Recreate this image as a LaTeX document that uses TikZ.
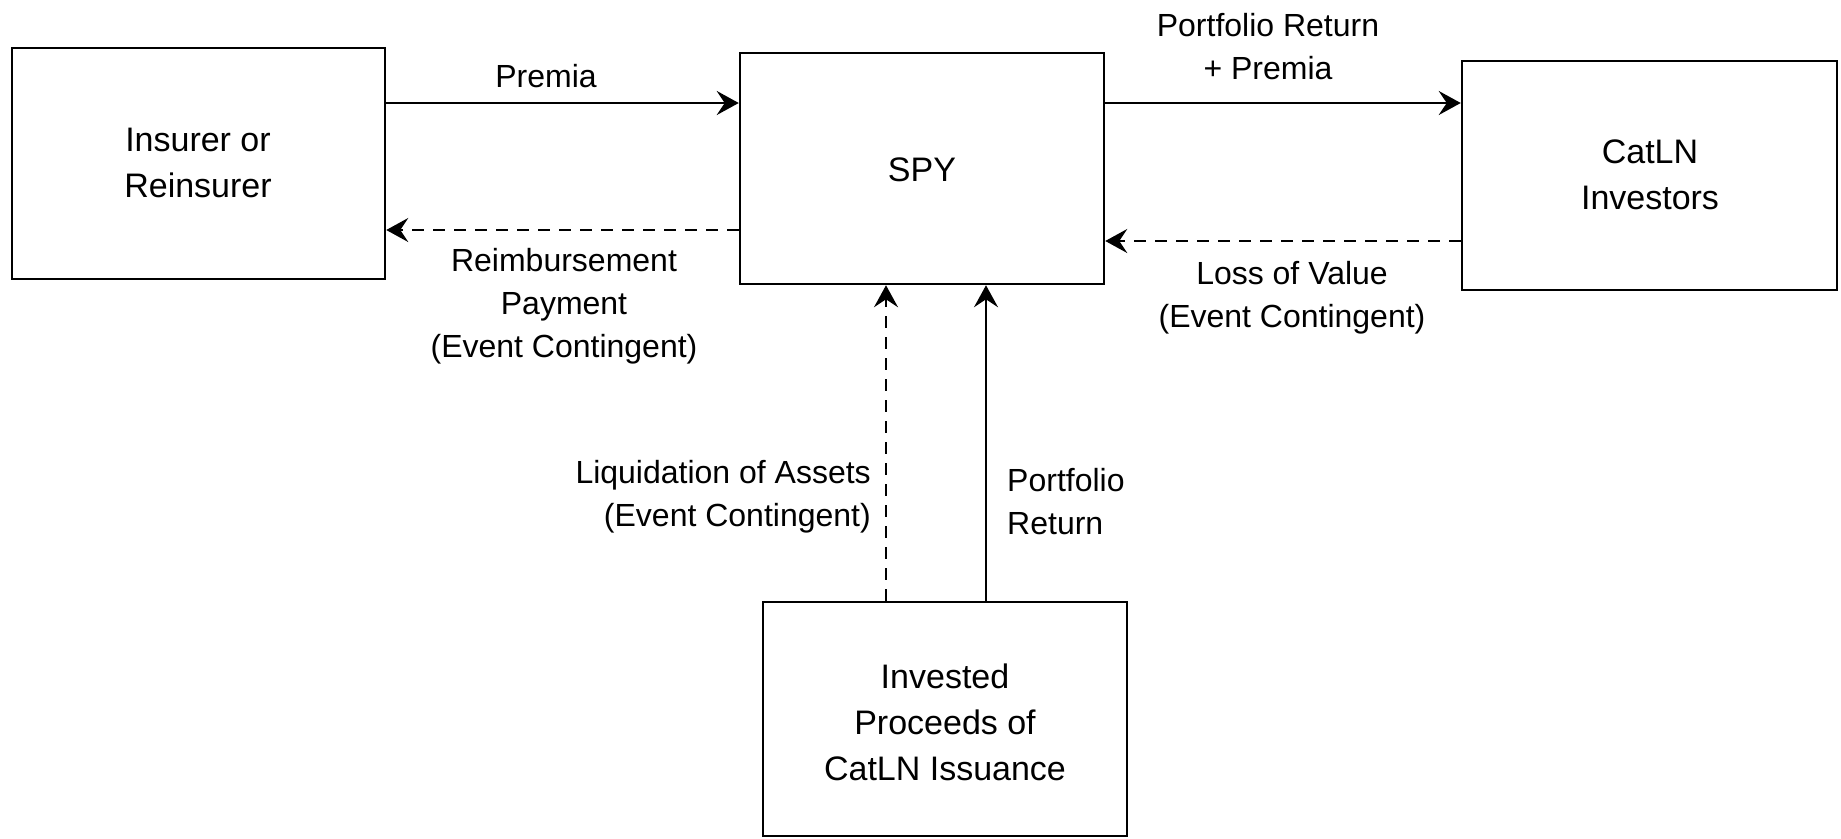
\documentclass[tikz,border=0pt]{standalone}
\usepackage{fontspec}
\setmainfont{Liberation Sans}
\usetikzlibrary{arrows.meta}
\begin{document}
\begin{tikzpicture}[x=1pt,y=-1pt,
  box/.style={draw,line width=2.5pt,minimum width=#1,inner sep=0pt},
  lbl/.style={font=\fontsize{32}{43}\selectfont,align=center,inner sep=0pt},
  btxt/.style={font=\fontsize{34}{46}\selectfont,align=center,inner sep=0pt},
  arr/.style={line width=2.5pt,-{Stealth[length=22pt,width=24pt,inset=8pt]}},
  darr/.style={arr,dash pattern=on 12pt off 9pt}]
\useasboundingbox (0,0) rectangle (1841,838);
\node[box=373pt,minimum height=231pt] (ins) at (198.5,163.5) {};
\node[box=364pt,minimum height=231pt] (spy) at (922,168.5) {};
\node[box=375pt,minimum height=229pt] (cat) at (1649.5,175.5) {};
\node[box=364pt,minimum height=234pt] (inv) at (945,719) {};
\node[btxt] (t1) at (198,163) {Insurer or\\Reinsurer};
\node[btxt] (t2) at (922,170) {SPY};
\node[btxt] (t3) at (1650,175) {CatLN\\Investors};
\node[btxt] (t4) at (945,722) {Invested\\Proceeds of\\CatLN Issuance};
\draw[arr] (ins.east |- 0,103) -- (spy.west |- 0,103);
\draw[darr] (spy.west |- 0,230) -- (ins.east |- 0,230);
\draw[arr] (spy.east |- 0,103) -- (cat.west |- 0,103);
\draw[darr] (cat.west |- 0,241) -- (spy.east |- 0,241);
\draw[darr] (inv.north -| 886,0) -- (spy.south -| 886,0);
\draw[arr] (inv.north -| 986,0) -- (spy.south -| 986,0);
\node[lbl] (l1) at (546,76) {Premia};
\node[lbl] (l2) at (564,306) {Reimbursement\\Payment\\(Event Contingent)};
\node[lbl] (l3) at (1268,47) {Portfolio Return\\+ Premia};
\node[lbl] (l4) at (1292,298) {Loss of Value\\(Event Contingent)};
\node[lbl,align=right,anchor=east] (l5) at (871,497) {Liquidation of Assets\\(Event Contingent)};
\node[lbl,align=left,anchor=west] (l6) at (1007,502) {Portfolio\\Return};
\end{tikzpicture}
\end{document}
